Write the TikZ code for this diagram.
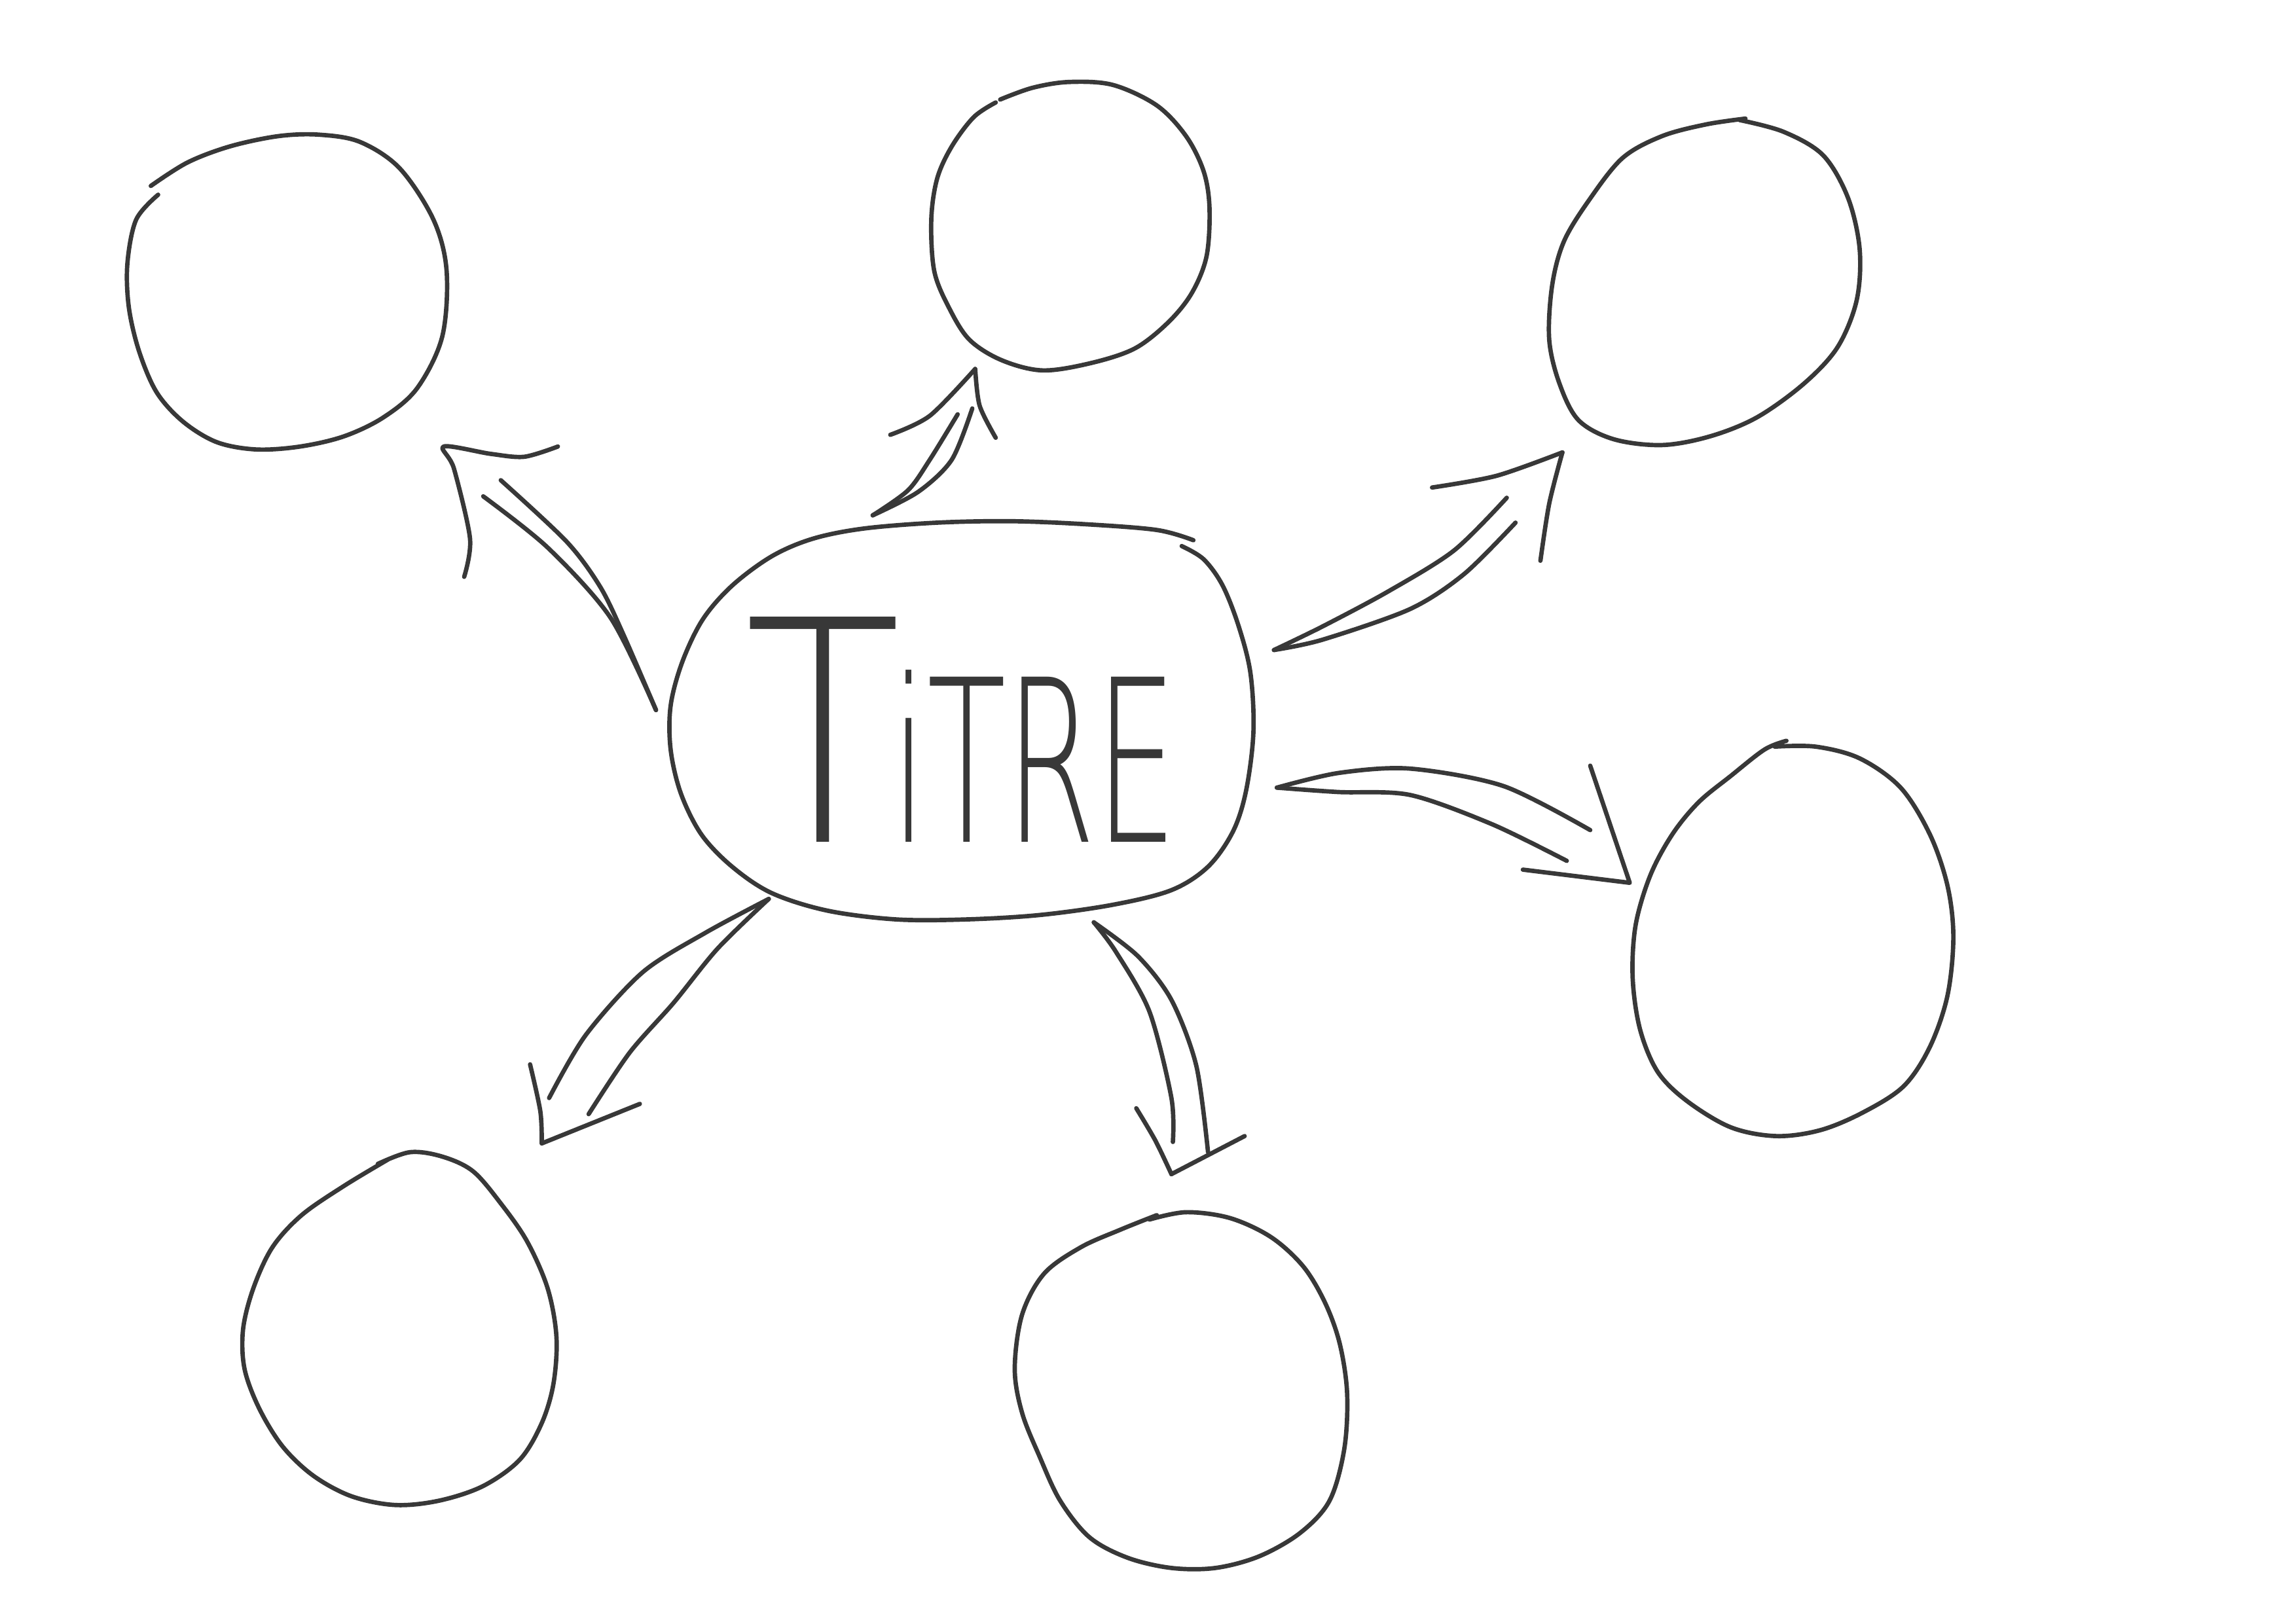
\documentclass[tikz,border=0pt]{standalone}
\usepackage{fontspec}
\usepackage{graphicx}
\newfontfamily\titrefont{DejaVuSans-ExtraLight.ttf}
\definecolor{ink}{HTML}{383838}

\begin{document}
\begin{tikzpicture}[x=0.01cm,y=-0.01cm,
    pen/.style={line width=0.85pt,draw=ink,line cap=round,line join=round}]
  \useasboundingbox (0,0) rectangle (1568,1109);
  % central blob and title
  \draw[pen] plot[smooth,tension=0.55] coordinates {(815,369) (790,362) (740,358) (690,356) (640,357) (590,361) (555,368) (527,380) (500,400) (480,423) (466,452) (458,482) (458,512) (465,542) (479,570) (500,592) (527,610) (565,622) (612,628) (660,628) (710,625) (760,618) (800,608) (825,592) (842,568) (851,540) (856,500) (854,460) (846,428) (835,400) (822,382) (807,373)};
  \node[anchor=base west,inner sep=0pt,text=ink] (titre) at (508,575)
    {\titrefont\scalebox{0.83}[1]{\fontsize{60}{60}\selectfont T}\kern-2pt\scalebox{0.57}[1]{\fontsize{44}{44}\selectfont iTRE}};
  % circles
  \draw[pen] plot[smooth,tension=0.55] coordinates {(103,127) (128,111) (157,100) (190,93) (218,92) (246,97) (273,115) (296,150) (305,185) (302,230) (285,265) (262,285) (235,298) (205,305) (175,307) (148,302) (125,288) (107,268) (95,240) (88,210) (87,180) (93,150) (108,133)};
  \draw[pen] plot[smooth,tension=0.55] coordinates {(683,68) (705,60) (730,56) (760,58) (790,72) (810,93) (822,117) (826,142) (824,175) (814,200) (798,220) (775,238) (745,248) (712,253) (684,246) (662,232) (648,210) (638,185) (636,150) (640,122) (650,100) (665,80) (680,70)};
  \draw[pen] plot[smooth,tension=0.55] coordinates {(1188,82) (1218,90) (1245,106) (1262,135) (1270,170) (1268,205) (1255,237) (1232,262) (1200,285) (1168,298) (1135,304) (1102,300) (1078,287) (1065,262) (1058,232) (1060,195) (1068,165) (1085,137) (1108,108) (1135,93) (1165,85) (1192,81)};
  \draw[pen] plot[smooth,tension=0.55] coordinates {(1212,510) (1240,510) (1270,518) (1298,538) (1318,570) (1330,605) (1334,640) (1330,680) (1318,715) (1300,742) (1272,760) (1243,772) (1213,776) (1182,770) (1152,752) (1132,732) (1120,703) (1115,668) (1117,632) (1127,598) (1142,570) (1160,548) (1182,530) (1205,512) (1220,506)};
  \draw[pen] plot[smooth,tension=0.55] coordinates {(258,795) (280,787) (302,790) (323,800) (342,822) (360,848) (374,880) (380,913) (378,945) (370,972) (355,997) (330,1015) (300,1025) (270,1028) (240,1022) (214,1008) (193,988) (177,962) (167,935) (166,908) (173,880) (186,852) (206,830) (235,810) (265,792)};
  \draw[pen] plot[smooth,tension=0.55] coordinates {(785,833) (810,828) (840,832) (868,845) (890,865) (905,890) (915,918) (920,952) (918,990) (908,1025) (888,1047) (860,1063) (830,1071) (800,1071) (770,1064) (744,1050) (724,1025) (710,995) (698,965) (693,935) (698,898) (713,870) (738,852) (765,840) (790,830)};
  % arrow tails and tips
  \coordinate (tail1) at (448,485);   \coordinate (tip1) at (303,305);
  \coordinate (tail2) at (596,352);   \coordinate (tip2) at (666,252);
  \coordinate (tail3) at (870,444);   \coordinate (tip3) at (1067,309);
  \coordinate (tail4) at (872,538);   \coordinate (tip4) at (1113,603);
  \coordinate (tail5) at (747,630);   \coordinate (tip5) at (800,802);
  \coordinate (tail6) at (525,614);   \coordinate (tip6) at (370,781);
  % arrow to top left
  \draw[pen] plot[smooth] coordinates {(tail1) (417,422) (374,374) (330,339)};
  \draw[pen] plot[smooth] coordinates {(tail1) (426,434) (410,401) (387,370) (342,328)};
  \draw[pen] plot[smooth] coordinates {(317,394) (321,368) (310,320) (tip1) (335,310) (358,312) (381,305)};
  % arrow to top
  \draw[pen] plot[smooth] coordinates {(tail2) (620,335) (635,314) (654,283)};
  \draw[pen] plot[smooth] coordinates {(tail2) (627,336) (650,314) (664,279)};
  \draw[pen] plot[smooth] coordinates {(608,297) (635,284) (tip2)};
  \draw[pen] plot[smooth] coordinates {(tip2) (669,277) (680,299)};
  % arrow to top right
  \draw[pen] plot[smooth] coordinates {(tail3) (903,428) (948,404) (993,376) (1029,340)};
  \draw[pen] plot[smooth] coordinates {(tail3) (903,437) (963,416) (1000,392) (1035,357)};
  \draw[pen] plot[smooth] coordinates {(978,333) (1022,325) (tip3)};
  \draw[pen] plot[smooth] coordinates {(tip3) (1058,344) (1052,383)};
  % arrow to right
  \draw[pen] plot[smooth] coordinates {(tail4) (914,528) (963,525) (1027,537) (1086,567)};
  \draw[pen] plot[smooth] coordinates {(tail4) (914,541) (963,543) (1019,563) (1070,588)};
  \draw[pen] (1086,523) -- (tip4) -- (1040,594);
  % arrow to bottom
  \draw[pen] plot[smooth] coordinates {(tail5) (762,650) (785,691) (800,750) (801,780)};
  \draw[pen] plot[smooth] coordinates {(tail5) (777,653) (800,683) (817,728) (825,787)};
  \draw[pen] plot[smooth] coordinates {(776,757) (789,779) (tip5)};
  \draw[pen] (tip5) -- (850,776);
  % arrow to bottom left
  \draw[pen] plot[smooth] coordinates {(tail6) (482,637) (439,664) (400,707) (375,750)};
  \draw[pen] plot[smooth] coordinates {(tail6) (490,648) (460,685) (430,719) (402,761)};
  \draw[pen] plot[smooth] coordinates {(362,727) (369,759) (tip6)};
  \draw[pen] (tip6) -- (437,754);
\end{tikzpicture}
\end{document}
